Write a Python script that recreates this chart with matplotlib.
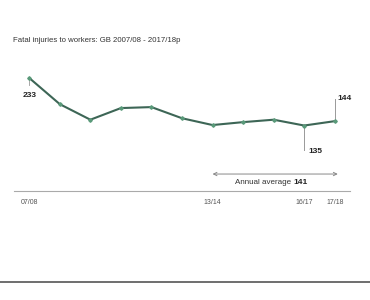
import matplotlib
matplotlib.use("Agg")
import matplotlib.pyplot as plt
from matplotlib.lines import Line2D

years = ["07/08", "08/09", "09/10", "10/11", "11/12", "12/13", "13/14", "14/15", "15/16", "16/17", "17/18"]
values = [233, 179, 147, 171, 173, 150, 136, 142, 147, 135, 144]
shown_ticks = ["07/08", "13/14", "16/17", "17/18"]
average = 141
avg_start = "13/14"
title = "Fatal injuries to workers: GB 2007/08 - 2017/18p"

plt.rcParams['font.family'] = ['Liberation Sans', 'DejaVu Sans']

fig = plt.figure(figsize=(3.7, 3.0), dpi=100)
ax = fig.add_axes([14/370, (300-191)/300, 336/370, (191-69.75)/300])
x = list(range(len(years)))
ax.plot(x, values, color="#3d6656", lw=1.5, marker="D", ms=1.8,
        markerfacecolor="#5a9a7a", markeredgecolor="#5a9a7a", zorder=3)
ax.set_xlim(-0.5, len(years) - 0.5)
ax.set_ylim(0, 250)
for s in ["top", "right", "left"]:
    ax.spines[s].set_visible(False)
ax.spines["bottom"].set_color("#aaaaaa")
ax.spines["bottom"].set_linewidth(0.8)
ax.set_yticks([])
tick_pos = [years.index(t) for t in shown_ticks]
ax.set_xticks(tick_pos)
ax.set_xticklabels(shown_ticks, fontsize=5, color="#555555")
ax.tick_params(axis="x", length=0, pad=6)

# annotations
i0 = 0
ax.plot([i0, i0], [values[i0], values[i0] - 14], color="#999999", lw=0.6, clip_on=False)
ax.text(i0, values[i0] - 36, str(values[i0]), ha="center", va="center", fontsize=6,
        fontweight="bold", color="#222222")
i9 = years.index("16/17")
ax.plot([i9, i9], [values[i9], values[i9] - 50], color="#999999", lw=0.7, clip_on=False)
ax.text(i9 + 0.13, values[i9] - 53, str(values[i9]), ha="left", va="center", fontsize=6,
        fontweight="bold", color="#222222")
i10 = years.index("17/18")
ax.plot([i10, i10], [values[i10], values[i10] + 45], color="#999999", lw=0.7, clip_on=False)
ax.text(i10 + 0.1, values[i10] + 47, str(values[i10]), ha="left", va="center", fontsize=6,
        fontweight="bold", color="#222222")

# annual average arrow
a0 = years.index(avg_start)
ax.annotate("", xy=(a0, 35), xytext=(len(years) - 1 + 0.1, 35),
            arrowprops=dict(arrowstyle="<->", color="#888888", lw=0.7,
                            shrinkA=0, shrinkB=0, mutation_scale=6))
ax.text(8.66, 17, "Annual average ", ha="right", va="center", fontsize=5.8, color="#333333")
ax.text(8.66, 17, str(average), ha="left", va="center", fontsize=6, fontweight="bold", color="#222222")

fig.text(13/370, 1 - 41/300, title, ha="left", va="center", fontsize=5.6, color="#333333")
fig.add_artist(Line2D([0, 1], [1 - 282/300, 1 - 282/300], color="#555555", lw=1.2,
                      transform=fig.transFigure))

fig.savefig("out.png", dpi=100, facecolor="white")
